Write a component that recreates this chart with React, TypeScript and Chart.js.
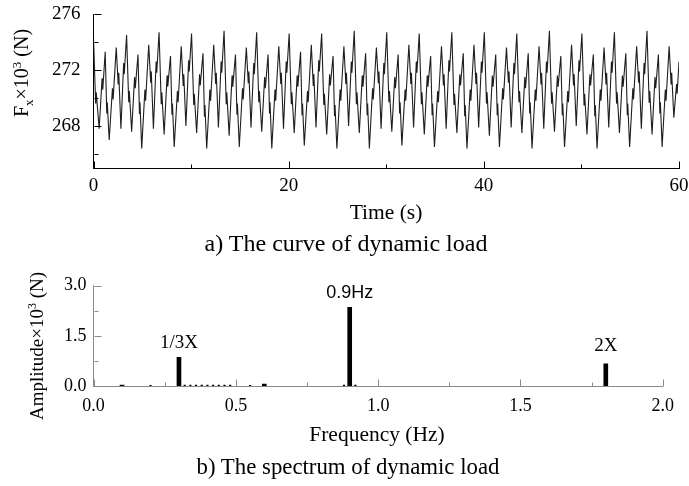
import React, { useEffect, useRef } from "react";
import { Chart, registerables } from "chart.js";

Chart.register(...registerables);

// ---------- a) dynamic load curve (incl. the small kinks) ----------
const loadTime = [
  0, 0.22, 0.28, 0.58, 0.88, 0.95, 1.2, 1.36, 1.41,
  1.61, 1.94, 2.01, 2.33, 2.53, 2.59, 2.81, 3.09, 3.15, 3.39, 3.61, 3.67, 3.91, 4.21, 4.28, 4.56, 4.71, 4.76,
  4.94, 5.27, 5.34, 5.66, 5.86, 5.92, 6.14, 6.42, 6.48, 6.72, 6.94, 7.0, 7.24, 7.54, 7.61, 7.89, 8.04, 8.09,
  8.27, 8.6, 8.67, 8.99, 9.19, 9.25, 9.47, 9.75, 9.81, 10.05, 10.27, 10.33, 10.57, 10.87, 10.94, 11.22, 11.37, 11.42,
  11.6, 11.93, 12.0, 12.32, 12.52, 12.58, 12.8, 13.08, 13.14, 13.38, 13.6, 13.66, 13.9, 14.2, 14.27, 14.55, 14.7, 14.75,
  14.94, 15.27, 15.34, 15.66, 15.86, 15.92, 16.14, 16.42, 16.48, 16.72, 16.94, 17.0, 17.24, 17.54, 17.61, 17.89, 18.04, 18.09,
  18.27, 18.6, 18.67, 18.99, 19.19, 19.25, 19.47, 19.75, 19.81, 20.05, 20.27, 20.33, 20.57, 20.87, 20.94, 21.22, 21.37, 21.42,
  21.6, 21.93, 22.0, 22.32, 22.52, 22.58, 22.8, 23.08, 23.14, 23.38, 23.6, 23.66, 23.9, 24.2, 24.27, 24.55, 24.7, 24.75,
  24.94, 25.27, 25.34, 25.66, 25.86, 25.92, 26.14, 26.42, 26.48, 26.72, 26.94, 27.0, 27.24, 27.54, 27.61, 27.89, 28.04, 28.09,
  28.27, 28.6, 28.67, 28.99, 29.19, 29.25, 29.47, 29.75, 29.81, 30.05, 30.27, 30.33, 30.57, 30.87, 30.94, 31.22, 31.37, 31.42,
  31.6, 31.93, 32.0, 32.32, 32.52, 32.58, 32.8, 33.08, 33.14, 33.38, 33.6, 33.66, 33.9, 34.2, 34.27, 34.55, 34.7, 34.75,
  34.94, 35.27, 35.34, 35.66, 35.86, 35.92, 36.14, 36.42, 36.48, 36.72, 36.94, 37.0, 37.24, 37.54, 37.61, 37.89, 38.04, 38.09,
  38.27, 38.6, 38.67, 38.99, 39.19, 39.25, 39.47, 39.75, 39.81, 40.05, 40.27, 40.33, 40.57, 40.87, 40.94, 41.22, 41.37, 41.42,
  41.6, 41.93, 42.0, 42.32, 42.52, 42.58, 42.8, 43.08, 43.14, 43.38, 43.6, 43.66, 43.9, 44.2, 44.27, 44.55, 44.7, 44.75,
  44.94, 45.27, 45.34, 45.66, 45.86, 45.92, 46.14, 46.42, 46.48, 46.72, 46.94, 47.0, 47.24, 47.54, 47.61, 47.89, 48.04, 48.09,
  48.27, 48.6, 48.67, 48.99, 49.19, 49.25, 49.47, 49.75, 49.81, 50.05, 50.27, 50.33, 50.57, 50.87, 50.94, 51.22, 51.37, 51.42,
  51.6, 51.93, 52.0, 52.32, 52.52, 52.58, 52.8, 53.08, 53.14, 53.38, 53.6, 53.66, 53.9, 54.2, 54.27, 54.55, 54.7, 54.75,
  54.94, 55.27, 55.34, 55.66, 55.86, 55.92, 56.14, 56.42, 56.48, 56.72, 56.94, 57.0, 57.24, 57.54, 57.61, 57.89, 58.04, 58.09,
  58.27, 58.6, 58.67, 58.99, 59.19, 59.25, 59.47, 59.75, 59.81, 60,
];
const loadValue = [
  274.3, 269.6, 270.4, 267.8, 271.4, 270.6, 273.3, 268.9, 269.7,
  267.0, 270.7, 269.9, 273.6, 271.0, 271.8, 267.8, 272.5, 271.7, 274.5, 269.7, 270.5, 267.6, 271.5, 270.7, 273.1, 268.9, 269.7,
  266.4, 270.6, 269.8, 273.8, 271.1, 271.9, 267.8, 272.6, 271.8, 274.7, 269.6, 270.4, 267.4, 271.6, 270.8, 273.0, 268.8, 269.6,
  266.5, 270.5, 269.7, 273.7, 270.9, 271.7, 268.0, 272.7, 271.9, 274.6, 269.5, 270.3, 267.5, 271.7, 270.9, 273.2, 268.7, 269.5,
  266.4, 270.6, 269.8, 273.8, 271.0, 271.8, 267.9, 272.6, 271.8, 274.8, 269.6, 270.4, 267.3, 271.6, 270.8, 273.1, 268.8, 269.6,
  266.5, 270.7, 269.9, 273.6, 271.1, 271.9, 267.9, 272.5, 271.7, 274.7, 269.7, 270.5, 267.6, 271.5, 270.7, 273.1, 268.9, 269.7,
  266.4, 270.6, 269.8, 273.7, 271.0, 271.8, 267.8, 272.6, 271.8, 274.6, 269.6, 270.4, 267.5, 271.6, 270.8, 273.3, 268.8, 269.6,
  266.6, 270.5, 269.7, 273.8, 270.9, 271.7, 267.9, 272.7, 271.9, 274.6, 269.5, 270.3, 267.4, 271.7, 270.9, 273.0, 268.7, 269.5,
  266.4, 270.6, 269.8, 273.7, 271.0, 271.8, 268.0, 272.6, 271.8, 274.8, 269.6, 270.4, 267.5, 271.6, 270.8, 273.2, 268.8, 269.6,
  266.4, 270.7, 269.9, 273.6, 271.1, 271.9, 267.8, 272.5, 271.7, 274.7, 269.7, 270.5, 267.6, 271.5, 270.7, 273.1, 268.9, 269.7,
  266.6, 270.6, 269.8, 273.8, 271.0, 271.8, 267.9, 272.6, 271.8, 274.6, 269.6, 270.4, 267.4, 271.6, 270.8, 273.0, 268.8, 269.6,
  266.5, 270.5, 269.7, 273.7, 270.9, 271.7, 267.8, 272.7, 271.9, 274.7, 269.5, 270.3, 267.5, 271.7, 270.9, 273.2, 268.7, 269.5,
  266.4, 270.6, 269.8, 273.8, 271.0, 271.8, 267.9, 272.6, 271.8, 274.7, 269.6, 270.4, 267.3, 271.6, 270.8, 273.1, 268.8, 269.6,
  266.5, 270.7, 269.9, 273.6, 271.1, 271.9, 267.9, 272.5, 271.7, 274.6, 269.7, 270.5, 267.5, 271.5, 270.7, 273.2, 268.9, 269.7,
  266.4, 270.6, 269.8, 273.7, 271.0, 271.8, 267.8, 272.6, 271.8, 274.8, 269.6, 270.4, 267.6, 271.6, 270.8, 273.0, 268.8, 269.6,
  266.5, 270.5, 269.7, 273.8, 270.9, 271.7, 268.0, 272.7, 271.9, 274.6, 269.5, 270.3, 267.4, 271.7, 270.9, 273.1, 268.7, 269.5,
  266.4, 270.6, 269.8, 273.6, 271.0, 271.8, 267.9, 272.6, 271.8, 274.7, 269.6, 270.4, 267.5, 271.6, 270.8, 273.2, 268.8, 269.6,
  266.5, 270.7, 269.9, 273.7, 271.1, 271.9, 267.8, 272.5, 271.7, 274.8, 269.7, 270.5, 267.4, 271.5, 270.7, 273.1, 268.9, 269.7,
  266.5, 270.6, 269.8, 273.7, 271.0, 271.8, 268.6, 271.0, 270.3, 272.6,
];
const loadXTicks = [0, 20, 40, 60];
const loadXMinor = [10, 30, 50];
const loadYTicks = [268, 272, 276];
const loadYMinor = [266, 270, 274];

// ---------- b) spectrum ----------
const specFreq = [0.1, 0.3, 0.6, 0.9, 1.8];
const specAmp = [0.03, 0.86, 0.06, 2.35, 0.66];
const specLabels = ["", "1/3X", "", "0.9Hz", "2X"];
const noiseFreq = [0.2, 0.32, 0.34, 0.36, 0.38, 0.4, 0.42, 0.44, 0.46, 0.48, 0.55, 0.88, 0.92];
const noiseAmp = [0.02, 0.03, 0.03, 0.03, 0.03, 0.03, 0.03, 0.03, 0.03, 0.03, 0.02, 0.03, 0.03];
const specXTicks = [0, 0.5, 1.0, 1.5, 2.0];
const specXMinor = [0.25, 0.75, 1.25, 1.75];
const specYTicks = [0, 1.5, 3.0];
const specYMinor = [0.75, 2.25];

const SERIF = "'Liberation Serif', 'Times New Roman', serif";
const SANS = "'Liberation Sans', Arial, sans-serif";

const inTicks = {
  id: "inTicks",
  afterDatasetsDraw(chart: any, _a: any, o: any) {
    const ctx = chart.ctx;
    const a = chart.chartArea;
    const sx = chart.scales.x;
    const sy = chart.scales.y;
    ctx.save();
    ctx.strokeStyle = o.color;
    ctx.lineWidth = 1;
    const seg = (x1: number, y1: number, x2: number, y2: number) => {
      ctx.beginPath();
      ctx.moveTo(x1, y1);
      ctx.lineTo(x2, y2);
      ctx.stroke();
    };
    const b = Math.round(a.bottom) + 0.5;
    const l = Math.round(a.left) + 0.5;
    o.xMajor.forEach((v: number) => {
      const p = Math.round(sx.getPixelForValue(v)) + 0.5;
      seg(p, b, p, b - o.majorLen);
    });
    o.xMinor.forEach((v: number) => {
      const p = Math.round(sx.getPixelForValue(v)) + 0.5;
      seg(p, b, p, b - o.minorLen);
    });
    o.yMajor.forEach((v: number) => {
      const p = Math.round(sy.getPixelForValue(v)) + 0.5;
      seg(l, p, l + o.majorLen, p);
    });
    o.yMinor.forEach((v: number) => {
      const p = Math.round(sy.getPixelForValue(v)) + 0.5;
      seg(l, p, l + o.minorLen, p);
    });
    ctx.restore();
  },
};

const barLabels = {
  id: "barLabels",
  afterDatasetsDraw(chart: any) {
    const ctx = chart.ctx;
    const sx = chart.scales.x;
    const sy = chart.scales.y;
    ctx.save();
    ctx.fillStyle = "#000";
    ctx.textAlign = "center";
    ctx.textBaseline = "bottom";
    specLabels.forEach((t, i) => {
      if (!t) return;
      const isHz = t.indexOf("Hz") >= 0;
      ctx.font = isHz ? `18px ${SANS}` : `19px ${SERIF}`;
      const lift = t === "2X" ? 8 : 5;
      ctx.fillText(t, sx.getPixelForValue(specFreq[i]), sy.getPixelForValue(specAmp[i]) - lift);
    });
    ctx.restore();
  },
};

const noPad = (s: any) => {
  s.paddingLeft = 0;
  s.paddingRight = 0;
  s.paddingTop = 0;
  s.paddingBottom = 0;
};

const W = 689;
const H = 486;

export default function App() {
  const topRef = useRef<HTMLCanvasElement>(null);
  const botRef = useRef<HTMLCanvasElement>(null);

  useEffect(() => {
    const tickFont = { family: SERIF, size: 19 };
    const c1 = new Chart(topRef.current as HTMLCanvasElement, {
      type: "line",
      data: {
        datasets: [
          {
            data: loadTime.map((t, i) => ({ x: t, y: loadValue[i] })),
            borderColor: "#1e1e1e",
            borderWidth: 1.1,
            pointRadius: 0,
            tension: 0,
            fill: false,
          },
        ],
      },
      options: {
        responsive: false,
        animation: false,
        events: [],
        layout: { padding: { left: 0, right: 10, top: 14, bottom: 288 } },
        plugins: {
          legend: { display: false },
          tooltip: { enabled: false },
          inTicks: {
            color: "#000",
            majorLen: 7,
            minorLen: 4,
            xMajor: loadXTicks,
            xMinor: loadXMinor,
            yMajor: loadYTicks,
            yMinor: loadYMinor,
          },
        } as any,
        scales: {
          x: {
            type: "linear",
            min: 0,
            max: 60,
            grid: { display: false, drawTicks: false },
            border: { display: true, color: "#000", width: 1 },
            afterBuildTicks: (s: any) => {
              s.ticks = loadXTicks.map((v) => ({ value: v }));
            },
            afterFit: (s: any) => {
              s.height = 30;
              noPad(s);
            },
            ticks: { color: "#000", font: tickFont, padding: 7, maxRotation: 0 },
          },
          y: {
            type: "linear",
            min: 265,
            max: 276,
            grid: { display: false, drawTicks: false },
            border: { display: true, color: "#000", width: 1 },
            afterBuildTicks: (s: any) => {
              s.ticks = loadYTicks.map((v) => ({ value: v }));
            },
            afterFit: (s: any) => {
              s.width = 93.5;
              noPad(s);
            },
            ticks: { color: "#000", font: tickFont, padding: 13 },
          },
        },
      },
      plugins: [inTicks],
    });

    const c2 = new Chart(botRef.current as HTMLCanvasElement, {
      type: "bar",
      data: {
        datasets: [
          {
            data: specFreq.map((f, i) => ({ x: f, y: specAmp[i] })),
            backgroundColor: "#000",
            barThickness: 4,
            grouped: false,
          } as any,
          {
            data: noiseFreq.map((f, i) => ({ x: f, y: noiseAmp[i] })),
            backgroundColor: "#000",
            barThickness: 1.5,
            grouped: false,
          } as any,
        ],
      },
      options: {
        responsive: false,
        animation: false,
        events: [],
        layout: { padding: { left: 0, right: 26.3, top: 285.7, bottom: 70 } },
        plugins: {
          legend: { display: false },
          tooltip: { enabled: false },
          inTicks: {
            color: "#8a8a8a",
            majorLen: 7,
            minorLen: 4,
            xMajor: specXTicks,
            xMinor: specXMinor,
            yMajor: specYTicks,
            yMinor: specYMinor,
          },
        } as any,
        scales: {
          x: {
            type: "linear",
            min: 0,
            max: 2,
            offset: false,
            grid: { display: false, drawTicks: false },
            border: { display: true, color: "#8a8a8a", width: 1 },
            afterBuildTicks: (s: any) => {
              s.ticks = specXTicks.map((v) => ({ value: v }));
            },
            afterFit: (s: any) => {
              s.height = 30;
              noPad(s);
            },
            ticks: {
              color: "#000",
              font: { family: SERIF, size: 18 },
              padding: 9,
              maxRotation: 0,
              callback: (v: any) => Number(v).toFixed(1),
            },
          },
          y: {
            type: "linear",
            min: 0,
            max: 3,
            grid: { display: false, drawTicks: false },
            border: { display: true, color: "#8a8a8a", width: 1 },
            afterBuildTicks: (s: any) => {
              s.ticks = specYTicks.map((v) => ({ value: v }));
            },
            afterFit: (s: any) => {
              s.width = 93.6;
              noPad(s);
            },
            ticks: {
              color: "#000",
              font: { family: SERIF, size: 18 },
              padding: 7,
              callback: (v: any) => Number(v).toFixed(1),
            },
          },
        },
      },
      plugins: [inTicks, barLabels],
    });

    return () => {
      c1.destroy();
      c2.destroy();
    };
  }, []);

  const text = (cx: number, cy: number, size: number, content: React.ReactNode, rotate = false) => (
    <div
      style={{
        position: "absolute",
        left: cx,
        top: cy,
        transform: `translate(-50%, -50%)${rotate ? " rotate(-90deg)" : ""}`,
        whiteSpace: "nowrap",
        fontFamily: SERIF,
        fontSize: size,
        lineHeight: 1,
        color: "#000",
      }}
    >
      {content}
    </div>
  );

  const canvasStyle: React.CSSProperties = { position: "absolute", left: 0, top: 0, width: W, height: H };

  return (
    <div style={{ position: "fixed", left: 0, top: 0, width: W, height: H, background: "#fff", overflow: "hidden" }}>
      <canvas ref={botRef} width={W} height={H} style={canvasStyle} />
      <canvas ref={topRef} width={W} height={H} style={canvasStyle} />
      {text(22, 73, 20, <span>F<sub style={{ fontSize: 13 }}>x</sub>×10<sup style={{ fontSize: 13 }}>3</sup> (N)</span>, true)}
      {text(36, 346, 19, <span>Amplitude×10<sup style={{ fontSize: 12 }}>3</sup> (N)</span>, true)}
      {text(386, 213, 21.5, "Time (s)")}
      {text(346, 243, 24, "a) The curve of dynamic load")}
      {text(377, 435, 21.5, "Frequency (Hz)")}
      {text(348, 467, 22.8, "b) The spectrum of dynamic load")}
    </div>
  );
}
